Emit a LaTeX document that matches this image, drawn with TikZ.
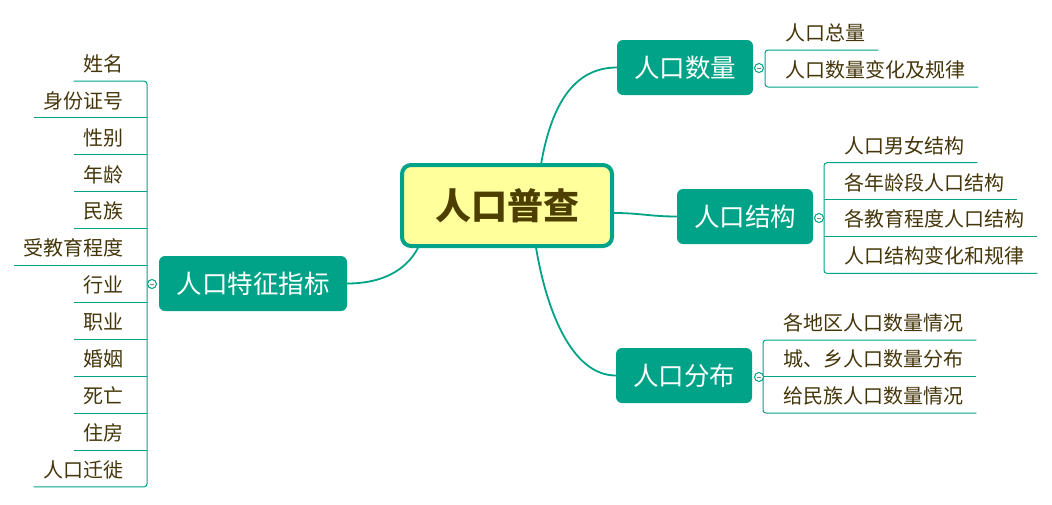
\documentclass[tikz,border=0pt]{standalone}
\usepackage{fontspec}
\setmainfont{Noto Sans CJK SC}
\usetikzlibrary{calc}
\definecolor{tealc}{HTML}{00A387}
\definecolor{yelc}{HTML}{FFFF9C}
\definecolor{roottext}{HTML}{4D3F00}
\definecolor{leaftext}{HTML}{45360A}
\tikzset{
  roottopic/.style={draw=tealc, line width=4pt, fill=yelc, rounded corners=9pt,
    minimum width=210pt, minimum height=81pt, inner sep=0pt, text=roottext,
    font=\fontsize{36}{40}\selectfont\bfseries},
  maintopic/.style={fill=tealc, text=white, rounded corners=6pt, minimum height=55pt,
    inner sep=0pt, font=\fontsize{25.5}{28}\selectfont},
  leafL/.style={anchor=south east, minimum height=34pt, inner xsep=10pt, inner ysep=0pt,
    text=leaftext, font=\fontsize{20}{22}\selectfont},
  leafR/.style={anchor=south west, minimum height=34pt, inner xsep=13pt, inner ysep=0pt,
    text=leaftext, font=\fontsize{20}{22}\selectfont},
  uline/.style={draw=tealc, line width=1pt},
  bracketline/.style={draw=tealc, line width=1pt, rounded corners=3pt},
  branch/.style={draw=tealc, line width=1.8pt},
  fold/.style={circle, draw=tealc, fill=white, minimum size=9pt, inner sep=0pt, line width=1pt,
    path picture={\draw[gray, line width=0.9pt] ([xshift=-2.3pt]path picture bounding box.center) -- ([xshift=2.3pt]path picture bounding box.center);}}
}
\newcommand{\lpad}[1]{#1\hspace*{13pt}}
\newcommand{\rpad}[1]{\hspace*{7pt}#1}
\begin{document}
\begin{tikzpicture}[x=1pt,y=-1pt]
\useasboundingbox (0,0) rectangle (1052,504);
\fill[white] (0,0) rectangle (1052,504);

% main topics
\node[roottopic] (root) at (507,205.5) {人口普查};
\node[maintopic, minimum width=188pt] (tz) at (253,283.5) {人口特征指标};
\node[maintopic, minimum width=136pt] (sl) at (685,67.5) {人口数量};
\node[maintopic, minimum width=136pt] (jg) at (745,216.5) {人口结构};
\node[maintopic, minimum width=136pt] (fb) at (684,375.5) {人口分布};

% branches
\draw[branch] ($(root.north west)!0.66!(root.north east)$) .. controls (551,108) and (572,67.5) .. (sl.west);
\draw[branch] ($(root.east)+(0,7.5)$) .. controls (640,213) and (650,216.5) .. (jg.west);
\draw[branch] ($(root.south west)!0.636!(root.south east)$) .. controls (546,308) and (571,375.5) .. (fb.west);
\draw[branch] ($(root.south west)!0.084!(root.south east)$) .. controls (405,272) and (380,283.5) .. (tz.east);

% left leaves
\foreach \t [count=\i] in {姓名,身份证号,性别,年龄,民族,受教育程度,行业,职业,婚姻,死亡,住房,人口迁徙}{
  \node[leafL] (L\i) at (147,{81+36.9*(\i-1)}) {\lpad{\t}};
}
\foreach \i in {2,...,11}{\draw[uline] (L\i.south west) -- (L\i.south east);}
\draw[bracketline] (L1.south west) -- (L1.south east) -- (L12.south east) -- (L12.south west);
\node[fold] (ftz) at (152,284) {};

% 人口数量 leaves
\node[leafR] (A1) at (765,50) {\rpad{人口总量}};
\node[leafR] (A2) at (765,87) {\rpad{人口数量变化及规律}};
\draw[bracketline] (A1.south east) -- (A1.south west) -- (A2.south west) -- (A2.south east);
\node[fold] (fsl) at (759,68) {};

% 人口结构 leaves
\node[leafR] (B1) at (824,162.7) {\rpad{人口男女结构}};
\node[leafR] (B2) at (824,199.6) {\rpad{各年龄段人口结构}};
\node[leafR] (B3) at (824,236.5) {\rpad{各教育程度人口结构}};
\node[leafR] (B4) at (824,273.4) {\rpad{人口结构变化和规律}};
\foreach \i in {2,3}{\draw[uline] (B\i.south west) -- (B\i.south east);}
\draw[bracketline] (B1.south east) -- (B1.south west) -- (B4.south west) -- (B4.south east);
\node[fold] (fjg) at (819,218) {};

% 人口分布 leaves
\node[leafR] (C1) at (763,340) {\rpad{各地区人口数量情况}};
\node[leafR] (C2) at (763,376.5) {\rpad{城、乡人口数量分布}};
\node[leafR] (C3) at (763,413) {\rpad{给民族人口数量情况}};
\draw[uline] (C2.south west) -- (C2.south east);
\draw[bracketline] (C1.south east) -- (C1.south west) -- (C3.south west) -- (C3.south east);
\node[fold] (ffb) at (759,377) {};
\end{tikzpicture}
\end{document}
